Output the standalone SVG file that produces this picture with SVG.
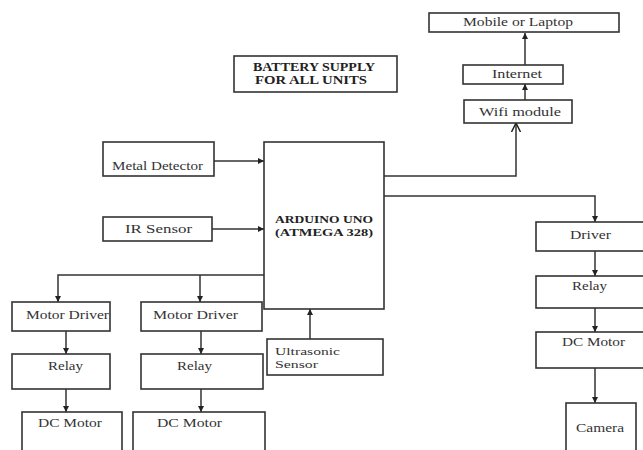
<svg xmlns="http://www.w3.org/2000/svg" width="643" height="450" viewBox="0 0 643 450">
<defs>
<style>
.box{fill:#fff;stroke:#333;stroke-width:1.6}
.t{font-family:"Liberation Serif","Times New Roman",serif;font-size:12px;fill:#333}
.s{font-size:11px}
.b{font-weight:bold;fill:#222}
.c{fill:none;stroke:#333;stroke-width:1.5}
</style>
<marker id="ah" viewBox="0 0 10 10" refX="10" refY="5" markerWidth="6" markerHeight="6" orient="auto" markerUnits="userSpaceOnUse">
<path d="M0,0 L10,5 L0,10 z" fill="#222"/>
</marker>
<marker id="av" viewBox="0 0 10 10" refX="9" refY="5" markerWidth="10" markerHeight="12" orient="auto" markerUnits="userSpaceOnUse">
<path d="M0,0.5 L9,5 L0,9.5" fill="none" stroke="#222" stroke-width="1.5"/>
</marker>
</defs>
<rect width="643" height="450" fill="#fff"/>
<g id="connectors">
<path class="c" d="M525,65 V33" marker-end="url(#ah)"/>
<path class="c" d="M525,100 V84" marker-end="url(#ah)"/>
<path class="c" d="M384,176 H516 V123" marker-end="url(#av)"/>
<path class="c" d="M384,196 H595 V222" marker-end="url(#ah)"/>
<path class="c" d="M595,251 V276" marker-end="url(#ah)"/>
<path class="c" d="M595,308 V332" marker-end="url(#ah)"/>
<path class="c" d="M595,368 V403" marker-end="url(#ah)"/>
<path class="c" d="M214,161 H264" marker-end="url(#ah)"/>
<path class="c" d="M212,229 H264" marker-end="url(#ah)"/>
<path class="c" d="M264,275 H58 V302" marker-end="url(#ah)"/>
<path class="c" d="M200,275 V302" marker-end="url(#ah)"/>
<path class="c" d="M66,331 V354" marker-end="url(#ah)"/>
<path class="c" d="M201,331 V354" marker-end="url(#ah)"/>
<path class="c" d="M66,389 V412" marker-end="url(#ah)"/>
<path class="c" d="M201,389 V412" marker-end="url(#ah)"/>
<path class="c" d="M310,339 V309" marker-end="url(#ah)"/>
</g>
<g id="mobile"><rect class="box" x="429" y="13" width="190" height="19"/><text class="t" x="463" y="26" textLength="110" lengthAdjust="spacingAndGlyphs">Mobile or Laptop</text></g>
<g id="internet"><rect class="box" x="463" y="65" width="100" height="19"/><text class="t" x="492" y="78" textLength="50" lengthAdjust="spacingAndGlyphs">Internet</text></g>
<g id="wifi"><rect class="box" x="464" y="100" width="108" height="23"/><text class="t" x="479" y="116" textLength="82" lengthAdjust="spacingAndGlyphs">Wifi module</text></g>
<g id="battery"><rect class="box" x="234" y="56" width="163" height="36"/><text class="t b" x="253" y="71" textLength="122" lengthAdjust="spacingAndGlyphs">BATTERY SUPPLY</text><text class="t b" x="255" y="84" textLength="112" lengthAdjust="spacingAndGlyphs">FOR ALL UNITS</text></g>
<g id="metal"><rect class="box" x="103" y="142" width="111" height="34"/><text class="t" x="112" y="170" textLength="91" lengthAdjust="spacingAndGlyphs">Metal Detector</text></g>
<g id="ir"><rect class="box" x="103" y="217" width="109" height="24"/><text class="t" x="125" y="233" textLength="67" lengthAdjust="spacingAndGlyphs">IR Sensor</text></g>
<g id="arduino"><rect class="box" x="264" y="142" width="120" height="167"/><text class="t b s" x="275" y="223" textLength="98" lengthAdjust="spacingAndGlyphs">ARDUINO UNO</text><text class="t b s" x="275" y="236" textLength="98" lengthAdjust="spacingAndGlyphs">(ATMEGA 328)</text></g>
<g id="md1"><rect class="box" x="12" y="302" width="98" height="29"/><text class="t" x="26" y="319" textLength="83" lengthAdjust="spacingAndGlyphs">Motor Driver</text></g>
<g id="md2"><rect class="box" x="141" y="302" width="121" height="29"/><text class="t" x="153" y="319" textLength="85" lengthAdjust="spacingAndGlyphs">Motor Driver</text></g>
<g id="relay1"><rect class="box" x="12" y="354" width="98" height="35"/><text class="t" x="48" y="370" textLength="35" lengthAdjust="spacingAndGlyphs">Relay</text></g>
<g id="relay2"><rect class="box" x="141" y="354" width="122" height="35"/><text class="t" x="177" y="370" textLength="35" lengthAdjust="spacingAndGlyphs">Relay</text></g>
<g id="dc1"><rect class="box" x="22" y="412" width="100" height="50"/><text class="t" x="38" y="427" textLength="64" lengthAdjust="spacingAndGlyphs">DC Motor</text></g>
<g id="dc2"><rect class="box" x="133" y="412" width="132" height="50"/><text class="t" x="157" y="427" textLength="65" lengthAdjust="spacingAndGlyphs">DC Motor</text></g>
<g id="ultra"><rect class="box" x="267" y="339" width="116" height="36"/><text class="t s" x="275" y="355" textLength="65" lengthAdjust="spacingAndGlyphs">Ultrasonic</text><text class="t s" x="275" y="368" textLength="43" lengthAdjust="spacingAndGlyphs">Sensor</text></g>
<g id="driver"><rect class="box" x="536" y="222" width="120" height="29"/><text class="t" x="570" y="239" textLength="41" lengthAdjust="spacingAndGlyphs">Driver</text></g>
<g id="relay3"><rect class="box" x="536" y="276" width="120" height="32"/><text class="t" x="572" y="290" textLength="35" lengthAdjust="spacingAndGlyphs">Relay</text></g>
<g id="dc3"><rect class="box" x="536" y="332" width="120" height="36"/><text class="t" x="562" y="346" textLength="63" lengthAdjust="spacingAndGlyphs">DC Motor</text></g>
<g id="camera"><rect class="box" x="566" y="403" width="70" height="60"/><text class="t" x="576" y="432" textLength="48" lengthAdjust="spacingAndGlyphs">Camera</text></g>
</svg>
